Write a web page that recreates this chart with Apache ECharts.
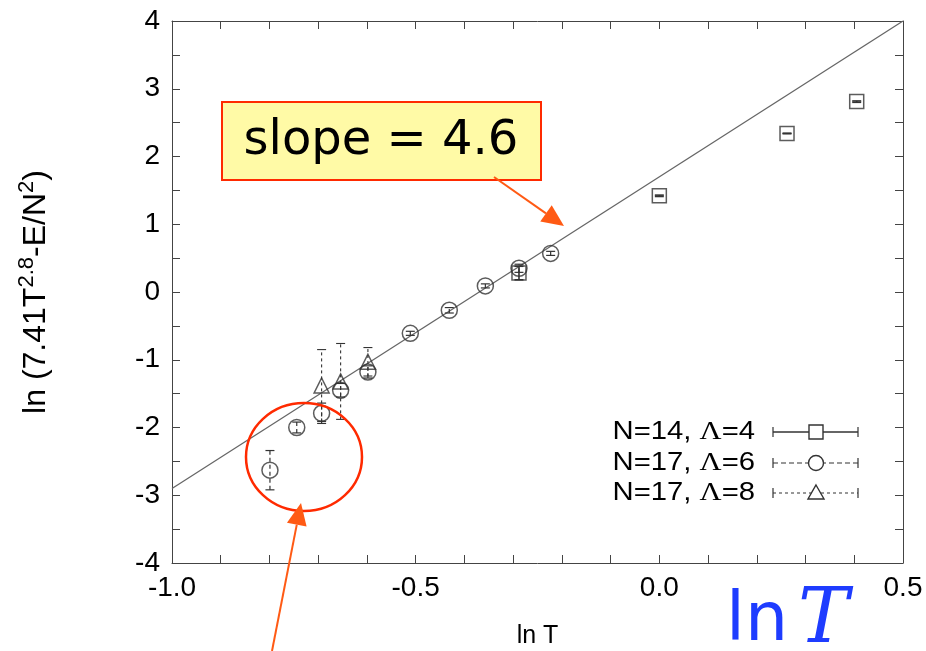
<!DOCTYPE html>
<html>
<head>
<meta charset="utf-8">
<script src="https://cdn.jsdelivr.net/npm/echarts@6/dist/echarts.min.js"></script>
<style>
  html, body { margin: 0; padding: 0; background: #fff; }
  #chart { width: 926px; height: 651px; }
</style>
</head>
<body>
<div id="chart"></div>
<script>
// N=14, Lambda=4
const sqX   = [-0.288, 0.0, 0.262, 0.405];
const sqY   = [0.28, 1.42, 2.34, 2.81];
const sqErr = [0.10, 0.01, 0.004, 0.01];

// N=17, Lambda=6
const ciX   = [-0.799, -0.744, -0.693, -0.654, -0.598, -0.511, -0.431, -0.357, -0.288, -0.223];
const ciY   = [-2.63, -2.00, -1.79, -1.45, -1.18, -0.61, -0.27, 0.09, 0.35, 0.57];
const ciErr = [0.29, 0.08, 0.15, 0.10, 0.09, 0.03, 0.04, 0.03, 0.06, 0.03];

// N=17, Lambda=8
const trX   = [-0.693, -0.654, -0.598];
const trY   = [-1.38, -1.32, -1.03];
const trErr = [0.53, 0.56, 0.21];

// fitted power law, slope 4.6
const fitX = [-1.0, 0.5];
const fitY = [-2.9, 4.0];

// labelled ticks
const xLabels = [-1.0, -0.5, 0.0, 0.5];
const yLabels = [-4, -3, -2, -1, 0, 1, 2, 3, 4];

const legendNames = ['N=14, ', 'N=17, ', 'N=17, '];
const legendLam   = ['=4', '=6', '=8'];

const pts = (xs, ys) => xs.map((x, i) => [x, ys[i]]);
const bars = (xs, ys, es) => xs.map((x, i) => [x, ys[i] - es[i], ys[i] + es[i]]);

const AXIS = '#444';
const MARK = '#333';
const RED = '#ff2a00';
const ORANGE = '#ff5a14';

function errorBars(name, data, dash, width) {
  return {
    type: 'custom',
    name: name,
    data: data,
    z: 3,
    silent: true,
    renderItem: function (params, api) {
      const x = api.value(0);
      const lo = api.coord([x, api.value(1)]);
      const hi = api.coord([x, api.value(2)]);
      const cap = 4.5;
      const style = { stroke: MARK, lineWidth: width, lineDash: dash };
      return {
        type: 'group',
        children: [
          { type: 'line', shape: { x1: lo[0], y1: lo[1], x2: hi[0], y2: hi[1] }, style: style },
          { type: 'line', shape: { x1: lo[0] - cap, y1: lo[1], x2: lo[0] + cap, y2: lo[1] }, style: { stroke: MARK, lineWidth: width } },
          { type: 'line', shape: { x1: hi[0] - cap, y1: hi[1], x2: hi[0] + cap, y2: hi[1] }, style: { stroke: MARK, lineWidth: width } }
        ]
      };
    }
  };
}

function markers(name, data, symbol, size) {
  return {
    type: 'scatter',
    name: name,
    data: data,
    symbol: symbol,
    symbolSize: size,
    z: 4,
    itemStyle: { color: 'rgba(0,0,0,0)', borderColor: MARK, borderWidth: 1.5 }
  };
}

function arrow(x1, y1, x2, y2, color) {
  const dx = x2 - x1, dy = y2 - y1;
  const len = Math.sqrt(dx * dx + dy * dy);
  const ux = dx / len, uy = dy / len;
  const hl = 22, hw = 10;
  const bx = x2 - ux * hl, by = y2 - uy * hl;
  return [
    { type: 'line', shape: { x1: x1, y1: y1, x2: bx, y2: by }, style: { stroke: color, lineWidth: 2 }, z: 20 },
    { type: 'polygon', shape: { points: [[x2, y2], [bx - uy * hw, by + ux * hw], [bx + uy * hw, by - ux * hw]] }, style: { fill: color }, z: 20 }
  ];
}

// legend built from text, sample line, caps and marker
const legendRows = [
  { y: 432, dash: null, w: 1.4, symbol: 'rect' },
  { y: 463, dash: [5, 3], w: 1.1, symbol: 'circle' },
  { y: 493, dash: [3, 3], w: 1.0, symbol: 'triangle' }
];
const legendGraphics = [];
legendRows.forEach((r, i) => {
  legendGraphics.push({
    type: 'text', x: 755, y: r.y, scaleX: 1.17, z: 10,
    style: {
      text: '{a|' + legendNames[i] + '}{g|\u039B}{a|' + legendLam[i] + '}',
      textAlign: 'right', textVerticalAlign: 'middle',
      rich: {
        a: { fontFamily: 'Liberation Sans', fontSize: 25, fill: '#000' },
        g: { fontFamily: 'Liberation Serif', fontSize: 26, fill: '#000' }
      }
    }
  });
  const ls = { stroke: MARK, lineWidth: r.w };
  if (r.dash) ls.lineDash = r.dash;
  legendGraphics.push({ type: 'line', z: 10, shape: { x1: 773, y1: r.y, x2: 858, y2: r.y }, style: ls });
  legendGraphics.push({ type: 'line', z: 10, shape: { x1: 773, y1: r.y - 5, x2: 773, y2: r.y + 5 }, style: { stroke: MARK, lineWidth: 1.2 } });
  legendGraphics.push({ type: 'line', z: 10, shape: { x1: 858, y1: r.y - 5, x2: 858, y2: r.y + 5 }, style: { stroke: MARK, lineWidth: 1.2 } });
  let m;
  if (r.symbol === 'rect') {
    m = { type: 'rect', shape: { x: 809, y: r.y - 7, width: 14, height: 14 } };
  } else if (r.symbol === 'circle') {
    m = { type: 'circle', shape: { cx: 816, cy: r.y, r: 7.5 } };
  } else {
    m = { type: 'polygon', shape: { points: [[816, r.y - 8], [824, r.y + 6], [808, r.y + 6]] } };
  }
  m.z = 11;
  m.style = { fill: '#fff', stroke: MARK, lineWidth: 1.4 };
  legendGraphics.push(m);
});

const near = (v, list) => list.some(t => Math.abs(v - t) < 1e-6);

const baseX = {
  type: 'value', min: -1.0, max: 0.5, interval: 0.1,
  axisLine: { show: true, onZero: false, lineStyle: { color: AXIS, width: 1 } },
  axisTick: { show: true, inside: true, length: 8, lineStyle: { color: AXIS } },
  splitLine: { show: false }
};
const baseY = {
  type: 'value', min: -4, max: 4, interval: 0.5,
  axisLine: { show: true, onZero: false, lineStyle: { color: AXIS, width: 1 } },
  axisTick: { show: true, inside: true, length: 8, lineStyle: { color: AXIS } },
  splitLine: { show: false }
};

const option = {
  backgroundColor: '#fff',
  animation: false,
  grid: { left: 172, right: 23, top: 21, bottom: 88, outerBoundsMode: 'none' },
  xAxis: [
    Object.assign({}, baseX, {
      position: 'bottom',
      name: 'ln T', nameLocation: 'middle', nameGap: 61,
      nameTextStyle: { fontFamily: 'Liberation Sans', fontSize: 25, color: '#000' },
      axisLabel: {
        show: true, margin: 11, showMinLabel: true, showMaxLabel: true,
        fontFamily: 'Liberation Sans', fontSize: 28, color: '#000',
        formatter: v => near(v, xLabels) ? (Math.abs(v) < 1e-9 ? '0.0' : v.toFixed(1)) : ''
      }
    }),
    Object.assign({}, baseX, { position: 'top', axisLabel: { show: false } })
  ],
  yAxis: [
    Object.assign({}, baseY, {
      position: 'left',
      name: '{a|ln (7.41T}{s|2.8}{a|-E/N}{s|2}{a|)}',
      nameLocation: 'middle', nameRotate: 90, nameGap: 116,
      nameTextStyle: {
        rich: {
          a: { fontFamily: 'Liberation Sans', fontSize: 32, color: '#000' },
          s: { fontFamily: 'Liberation Sans', fontSize: 22, color: '#000', padding: [0, 0, 18, 0] }
        }
      },
      axisLabel: {
        show: true, margin: 12, showMinLabel: true, showMaxLabel: true,
        fontFamily: 'Liberation Sans', fontSize: 28, color: '#000',
        formatter: v => near(v, yLabels) ? String(Math.round(v)) : ''
      }
    }),
    Object.assign({}, baseY, { position: 'right', axisLabel: { show: false } })
  ],
  series: [
    {
      type: 'line', name: 'fit', data: pts(fitX, fitY),
      symbol: 'none', z: 2, silent: true,
      lineStyle: { color: '#666', width: 1.3 }
    },
    errorBars('N=14, \u039B=4', bars(sqX, sqY, sqErr), null, 1.6),
    errorBars('N=17, \u039B=6', bars(ciX, ciY, ciErr), [4, 3], 1.2),
    errorBars('N=17, \u039B=8', bars(trX, trY, trErr), [3, 3], 1.1),
    markers('N=14, \u039B=4', pts(sqX, sqY), 'rect', 14),
    markers('N=17, \u039B=6', pts(ciX, ciY), 'circle', 16),
    markers('N=17, \u039B=8', pts(trX, trY), 'triangle', 15)
  ],
  graphic: [].concat(
    legendGraphics,
    [
      // annotation box
      {
        type: 'rect', z: 15,
        shape: { x: 222, y: 102, width: 319, height: 78 },
        style: { fill: '#fffaa6', stroke: RED, lineWidth: 2 }
      },
      {
        type: 'text', z: 16, x: 381, y: 142,
        style: {
          text: 'slope = 4.6', fontFamily: 'DejaVu Sans', fontSize: 48,
          fill: '#000', textAlign: 'center', textVerticalAlign: 'middle'
        }
      },
      // ellipse around the low-temperature points
      {
        type: 'ellipse', z: 15,
        shape: { cx: 304, cy: 457, rx: 58, ry: 54 },
        style: { fill: 'none', stroke: RED, lineWidth: 2.5 }
      },
      // blue axis caption
      {
        type: 'text', z: 16, x: 726, y: 660,
        style: {
          text: '{a|ln}{b|T}',
          textAlign: 'left', textVerticalAlign: 'bottom',
          rich: {
            a: { fontFamily: 'DejaVu Sans', fontSize: 68, fill: '#1e3cff', padding: [0, 10, 0, 0] },
            b: { fontFamily: 'DejaVu Serif', fontStyle: 'italic', fontSize: 76, fill: '#1e3cff' }
          }
        }
      }
    ],
    arrow(494, 177, 564, 226, ORANGE),
    arrow(272, 651, 301, 503, ORANGE)
  )
};

const chart = echarts.init(document.getElementById('chart'), null, { renderer: 'canvas' });
chart.setOption(option);
</script>
</body>
</html>
